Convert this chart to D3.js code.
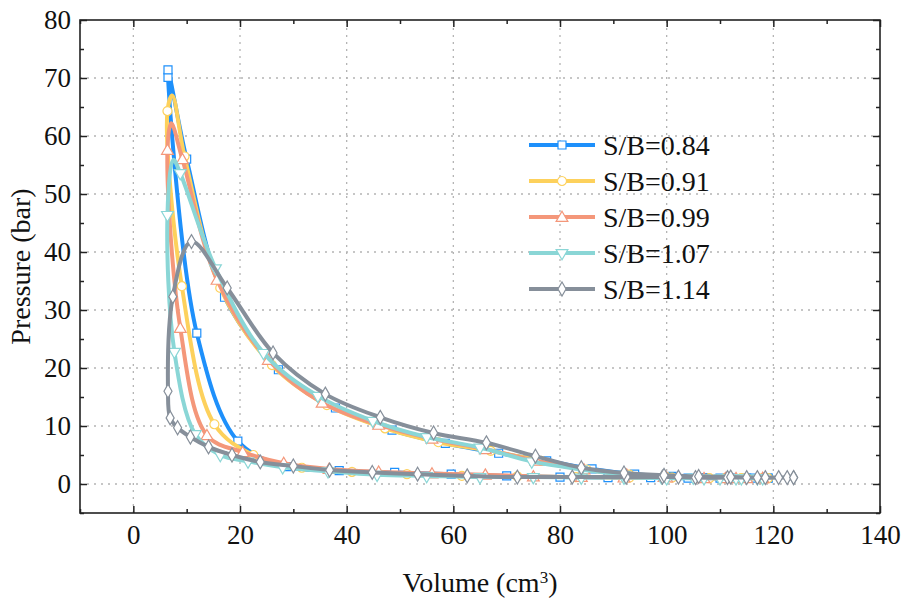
<!DOCTYPE html>
<html>
<head>
<meta charset="utf-8">
<script src="https://cdn.jsdelivr.net/npm/d3@7"></script>
<style>
  body { margin: 0; background: #fff; }
</style>
</head>
<body>
<svg id="chart" width="905" height="604"></svg>
<script>
// each loop: compression (lower branch, right -> left), then combustion/expansion (upper branch)
const seriesNames = ["S/B=0.84", "S/B=0.91", "S/B=0.99", "S/B=1.07", "S/B=1.14"];
const seriesColors = ["#1e90fb", "#fdd15c", "#f4977a", "#8ad6d6", "#868f9a"];
const seriesSymbols = ["square", "circle", "triangle", "triangleDown", "diamond"];
const FONT = "Liberation Serif";

const vol084 = [119, 115, 110, 104, 97, 89, 80, 70, 59.6, 49, 38.6, 28.8, 19.6, 11.9, 6.5,
  6.5, 10, 17.1, 27.2, 37.9, 48.5, 58.5, 68.5, 77.5, 86, 94, 101, 107, 112, 116, 119];
const p084 = [1.0, 1.0, 1.0, 1.0, 1.1, 1.1, 1.2, 1.4, 1.7, 2.0, 2.3, 3.0, 7.4, 26, 70.1,
  71.4, 56, 32.2, 19.7, 13.1, 9.3, 7.0, 5.3, 4.0, 2.6, 1.7, 1.3, 1.1, 1.0, 1.0, 1.0];

const vol091 = [119, 114, 108, 101, 93, 83, 72, 61.6, 51.3, 41, 31.6, 22.5, 15.2, 9.1, 6.4,
  7.3, 9.6, 16.3, 26, 36.3, 47.2, 57.2, 67, 76.5, 85, 93, 100, 106, 111, 115, 118];
const p091 = [1.0, 1.0, 1.0, 1.1, 1.1, 1.2, 1.3, 1.4, 1.7, 2.1, 2.8, 5.0, 10.3, 34.1, 64.3,
  67, 56.5, 33.8, 20.5, 13.6, 9.6, 7.2, 5.7, 4.0, 2.5, 1.6, 1.2, 1.1, 1.0, 1.0, 1.0];

const vol099 = [118, 113, 107, 100, 92, 84, 75, 66, 56, 46, 36.7, 28.2, 20.5, 13.8, 8.8, 6.4,
  7.1, 9.2, 15.7, 25.3, 35.4, 46, 56, 66, 75.5, 84.5, 92.5, 99.5, 106, 111, 115, 118];
const p099 = [1.0, 1.0, 1.0, 1.1, 1.1, 1.2, 1.3, 1.6, 1.8, 2.1, 2.6, 3.6, 5.5, 8.4, 26.9, 57.6,
  62.2, 56, 35.2, 21.4, 14, 10.2, 7.8, 6.0, 4.0, 2.5, 1.6, 1.2, 1.1, 1.0, 1.0, 1.0];

const vol107 = [118, 113, 107, 100, 92, 84, 75, 65, 55, 45.7, 36.5, 28, 21.5, 16.3, 11.6, 7.7, 6.4,
  7.5, 8.8, 15.4, 24.4, 34.6, 44.9, 55, 65, 74.7, 84, 92, 99, 105, 110, 114, 117];
const p107 = [1.0, 1.0, 1.0, 1.0, 1.1, 1.1, 1.2, 1.2, 1.4, 1.6, 2.2, 2.9, 3.9, 5.0, 8.6, 22.8, 46.4,
  55.9, 53.6, 37.2, 22.6, 15.2, 10.9, 8.1, 6.3, 3.9, 2.5, 1.6, 1.2, 1.1, 1.0, 1.0, 1.0];

const vol114 = [123.8, 122.6, 118.5, 115, 111.4, 105.4, 102.2, 99.2, 92.4, 82.3, 72, 62.6, 53.3,
  44.8, 36.8, 30, 23.8, 18.5, 14.1, 10.7, 8.3, 6.9, 6.5,
  7.4, 10.9, 17.6, 26.2, 36, 46.3, 56.3, 66.2, 75.4, 84, 92, 99.5, 106, 112, 117, 121, 123.8];
const p114 = [1.1, 1.1, 1.1, 1.1, 1.1, 1.1, 1.2, 1.2, 1.2, 1.2, 1.2, 1.4, 1.7,
  2.0, 2.4, 3.1, 3.8, 5.0, 6.4, 8.1, 9.7, 11.4, 16,
  32.3, 41.8, 33.8, 22.6, 15.5, 11.5, 8.8, 7.1, 4.8, 2.8, 1.9, 1.5, 1.3, 1.2, 1.1, 1.1, 1.1];

// curve apexes, drawn without a marker (index into each series)
const unmarked = [[], [15], [16], [17], []];

const volumes = [vol084, vol091, vol099, vol107, vol114];
const pressures = [p084, p091, p099, p107, p114];

const xTicks = [0, 20, 40, 60, 80, 100, 120, 140];
const yTicks = [0, 10, 20, 30, 40, 50, 60, 70, 80];

const plot = { left: 80, right: 880, top: 20, bottom: 513 };

const svg = d3.select("#chart");
const x = d3.scaleLinear().domain([-10, 140]).range([plot.left, plot.right]);
const y = d3.scaleLinear().domain([-5, 80]).range([plot.bottom, plot.top]);

// dotted grid
const grid = svg.append("g").attr("class", "grid")
  .attr("stroke", "#b4b4b4").attr("stroke-width", 1.3).attr("stroke-dasharray", "2,5");
grid.selectAll(".gx").data(xTicks.filter((d) => d < 140)).join("line")
  .attr("x1", (d) => x(d)).attr("x2", (d) => x(d))
  .attr("y1", plot.bottom).attr("y2", plot.top);
grid.selectAll(".gy").data(yTicks.filter((d) => d < 80)).join("line")
  .attr("y1", (d) => y(d)).attr("y2", (d) => y(d))
  .attr("x1", plot.left).attr("x2", plot.right);

// axes with inward ticks on all four sides
const xMinor = d3.range(-10, 141, 10).filter((d) => !xTicks.includes(d));
const yMinor = d3.range(-5, 81, 5).filter((d) => !yTicks.includes(d));

function styleAxis(g) {
  g.attr("font-family", FONT);
  g.select(".domain").remove();
  g.selectAll(".tick line").attr("stroke", "#222").attr("stroke-width", 1.5);
  g.selectAll("text").attr("font-family", FONT).attr("font-size", 27).attr("fill", "#111");
}

svg.append("g").attr("transform", `translate(0,${plot.bottom})`)
  .call(d3.axisBottom(x).tickValues(xTicks).tickSize(-7).tickPadding(12)).call(styleAxis);
svg.append("g").attr("transform", `translate(0,${plot.bottom})`)
  .call(d3.axisBottom(x).tickValues(xMinor).tickSize(-4).tickFormat("")).call(styleAxis);
svg.append("g").attr("transform", `translate(0,${plot.top})`)
  .call(d3.axisTop(x).tickValues(xTicks).tickSize(-7).tickFormat("")).call(styleAxis);
svg.append("g").attr("transform", `translate(0,${plot.top})`)
  .call(d3.axisTop(x).tickValues(xMinor).tickSize(-4).tickFormat("")).call(styleAxis);
svg.append("g").attr("transform", `translate(${plot.left},0)`)
  .call(d3.axisLeft(y).tickValues(yTicks).tickSize(-7).tickPadding(9)).call(styleAxis);
svg.append("g").attr("transform", `translate(${plot.left},0)`)
  .call(d3.axisLeft(y).tickValues(yMinor).tickSize(-4).tickFormat("")).call(styleAxis);
svg.append("g").attr("transform", `translate(${plot.right},0)`)
  .call(d3.axisRight(y).tickValues(yTicks).tickSize(-7).tickFormat("")).call(styleAxis);
svg.append("g").attr("transform", `translate(${plot.right},0)`)
  .call(d3.axisRight(y).tickValues(yMinor).tickSize(-4).tickFormat("")).call(styleAxis);

svg.append("rect")
  .attr("x", plot.left).attr("y", plot.top)
  .attr("width", plot.right - plot.left).attr("height", plot.bottom - plot.top)
  .attr("fill", "none").attr("stroke", "#222").attr("stroke-width", 1.6);

// symbols
const symbolPath = {
  square: d3.symbol(d3.symbolSquare, 64)(),
  circle: d3.symbol(d3.symbolCircle, 64)(),
  triangle: d3.symbol(d3.symbolTriangle, 60)(),
  triangleDown: d3.symbol(d3.symbolTriangle, 60)(),
  diamond: d3.symbol(d3.symbolDiamond, 56)(),
};
function drawSymbol(g, type, color) {
  const p = g.append("path")
    .attr("d", symbolPath[type])
    .attr("fill", "#fff")
    .attr("stroke", color)
    .attr("stroke-width", 1.2);
  if (type === "triangleDown") p.attr("transform", "rotate(180)");
  if (type === "triangle") p.attr("transform", "translate(0,1)");
  return p;
}

const line = d3.line()
  .x((d) => x(d[0]))
  .y((d) => y(d[1]))
  .curve(d3.curveCatmullRom.alpha(0.5));

const dataG = svg.append("g");
seriesNames.forEach((name, i) => {
  const pts = volumes[i].map((v, k) => [v, pressures[i][k]]);
  const g = dataG.append("g");
  g.append("path")
    .datum(pts)
    .attr("d", line)
    .attr("fill", "none")
    .attr("stroke", seriesColors[i])
    .attr("stroke-width", 4)
    .attr("stroke-linejoin", "round");
  pts.forEach((d, k) => {
    if (unmarked[i].includes(k)) return;
    const m = g.append("g").attr("transform", `translate(${x(d[0])},${y(d[1])})`);
    drawSymbol(m, seriesSymbols[i], seriesColors[i]);
  });
});

// legend
const legend = svg.append("g").attr("transform", "translate(529,145)");
seriesNames.forEach((name, i) => {
  const row = legend.append("g").attr("transform", `translate(0,${i * 36})`);
  row.append("line").attr("x1", 0).attr("x2", 66)
    .attr("stroke", seriesColors[i]).attr("stroke-width", 4);
  drawSymbol(row.append("g").attr("transform", "translate(33,0)"), seriesSymbols[i], seriesColors[i]);
  row.append("text").attr("x", 74).attr("y", 0).attr("dy", "0.35em")
    .attr("font-family", FONT).attr("font-size", 28).attr("fill", "#111").text(name);
});

// axis titles
svg.append("text")
  .attr("x", (plot.left + plot.right) / 2).attr("y", 592)
  .attr("text-anchor", "middle").attr("font-family", FONT).attr("font-size", 28)
  .attr("fill", "#111")
  .text("Volume (cm")
  .call((t) => t.append("tspan").attr("baseline-shift", "super").attr("font-size", 17).text("3"))
  .call((t) => t.append("tspan").text(")"));

svg.append("text")
  .attr("transform", `translate(30,${(plot.top + plot.bottom) / 2}) rotate(-90)`)
  .attr("text-anchor", "middle").attr("font-family", FONT).attr("font-size", 28)
  .attr("fill", "#111")
  .text("Pressure (bar)");
</script>
</body>
</html>
